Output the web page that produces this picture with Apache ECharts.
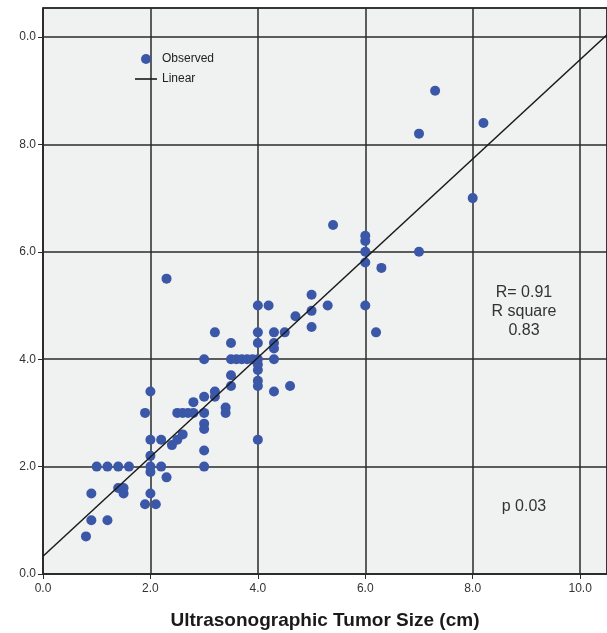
<!DOCTYPE html>
<html>
<head>
<meta charset="utf-8">
<script src="https://cdn.jsdelivr.net/npm/echarts@6/dist/echarts.min.js"></script>
<style>
html,body{margin:0;padding:0;background:#fff;}
#c{width:607px;height:633px;}
</style>
</head>
<body>
<div id="c"></div>
<script>
// Observed points: ultrasonographic size (x) vs. other size (y)
const obsX = [0.8,0.9,0.9,1.0,1.2,1.2,1.4,1.6,1.4,1.5,1.5,1.9,2.1,2.0,2.0,2.0,2.2,2.3,2.0,2.0,2.2,2.4,2.5,2.6,2.0,1.9,2.5,2.6,2.7,2.8,2.8,3.0,3.0,3.0,3.0,3.2,3.2,3.0,3.0,3.4,3.4,3.5,3.5,4.0,4.0,4.0,4.0,2.3,3.0,3.2,3.5,3.5,3.6,3.7,3.8,3.9,4.0,4.0,4.0,4.0,4.0,4.2,4.3,4.3,4.3,4.3,4.5,4.3,4.6,4.7,5.0,5.0,5.0,5.3,5.4,6.0,6.0,6.0,6.0,6.0,6.3,6.2,7.0,7.0,7.3,8.0,8.2];
const obsY = [0.7,1.0,1.5,2.0,1.0,2.0,2.0,2.0,1.6,1.6,1.5,1.3,1.3,1.5,1.9,2.0,2.0,1.8,2.2,2.5,2.5,2.4,2.5,2.6,3.4,3.0,3.0,3.0,3.0,3.0,3.2,3.0,2.8,2.7,3.3,3.4,3.3,2.3,2.0,3.1,3.0,3.5,3.7,3.8,3.6,3.5,2.5,5.5,4.0,4.5,4.3,4.0,4.0,4.0,4.0,4.0,4.0,3.9,4.3,4.5,5.0,5.0,4.0,4.2,4.3,4.5,4.5,3.4,3.5,4.8,4.6,4.9,5.2,5.0,6.5,5.0,5.8,6.0,6.2,6.3,5.7,4.5,6.0,8.2,9.0,7.0,8.4];
// Linear fit endpoints
const fitX = [0, 10.5];
const fitY = [0.33, 10.04];
// Tick labels as shown
const xTickLabels = {0:'0.0',2:'2.0',4:'4.0',6:'6.0',8:'8.0',10:'10.0'};
const yTickLabels = {0:'0.0',2:'2.0',4:'4.0',6:'6.0',8:'8.0',10:'0.0'};
const statsText = ['R= 0.91','R square','0.83'];
const pText = 'p 0.03';

const chart = echarts.init(document.getElementById('c'));
const font = 'Liberation Sans, Arial, sans-serif';
const gridColor = '#2a2a2a';
chart.setOption({
  animation: false,
  backgroundColor: '#ffffff',
  textStyle: {fontFamily: font},
  grid: {left: 43, top: 8, right: 0, bottom: 59, outerBoundsMode: 'none', containLabel: false,
    show: true, backgroundColor: '#f0f1f1', borderColor: gridColor, borderWidth: 1.5},
  legend: {
    orient: 'vertical', left: 130, top: 48, itemWidth: 22, itemHeight: 10, itemGap: 8,
    textStyle: {fontFamily: font, fontSize: 12, color: '#222'},
    data: [
      {name: 'Observed', icon: 'circle'},
      {name: 'Linear', icon: 'path://M0,4.2 L22,4.2 L22,5.8 L0,5.8 Z'}
    ]
  },
  xAxis: {
    type: 'value', min: 0, max: 10.5, interval: 2,
    name: 'Ultrasonographic Tumor Size (cm)', nameLocation: 'middle', nameGap: 37,
    nameTextStyle: {fontFamily: font, fontSize: 19, fontWeight: 'bold', color: '#1a1a1a'},
    axisLine: {show: true, lineStyle: {color: gridColor, width: 1.5}},
    axisTick: {show: true, length: 5, inside: false, lineStyle: {color: gridColor}},
    axisLabel: {fontFamily: font, fontSize: 12, color: '#333', margin: 9, showMaxLabel: false,
      formatter: v => xTickLabels[v] !== undefined ? xTickLabels[v] : ''},
    splitLine: {show: true, lineStyle: {color: gridColor, width: 1.5}}
  },
  yAxis: {
    type: 'value', min: 0, max: 10.54, interval: 2,
    axisLine: {show: true, lineStyle: {color: gridColor, width: 1.5}},
    axisTick: {show: true, length: 5, lineStyle: {color: gridColor}},
    axisLabel: {fontFamily: font, fontSize: 12, color: '#333', margin: 7, showMaxLabel: false,
      formatter: v => yTickLabels[v] !== undefined ? yTickLabels[v] : ''},
    splitLine: {show: true, lineStyle: {color: gridColor, width: 1.5}}
  },
  series: [
    {
      name: 'Observed', type: 'scatter', symbol: 'circle', symbolSize: 10,
      itemStyle: {color: '#3b57a8', opacity: 1},
      data: obsX.map((x, i) => [x, obsY[i]]), z: 3
    },
    {
      name: 'Linear', type: 'line', symbol: 'none',
      lineStyle: {color: '#1a1a1a', width: 1.5},
      itemStyle: {color: '#1a1a1a'},
      data: fitX.map((x, i) => [x, fitY[i]]), z: 4
    }
  ],
  graphic: [
    {type: 'text', position: [524, 283], style: {text: statsText.join('\n'), fontFamily: font, fontSize: 16, lineHeight: 19, fill: '#333', align: 'center', verticalAlign: 'top'}},
    {type: 'text', position: [524, 499], style: {text: pText, fontFamily: font, fontSize: 16, fill: '#333', align: 'center', verticalAlign: 'top'}}
  ]
});
</script>
</body>
</html>
